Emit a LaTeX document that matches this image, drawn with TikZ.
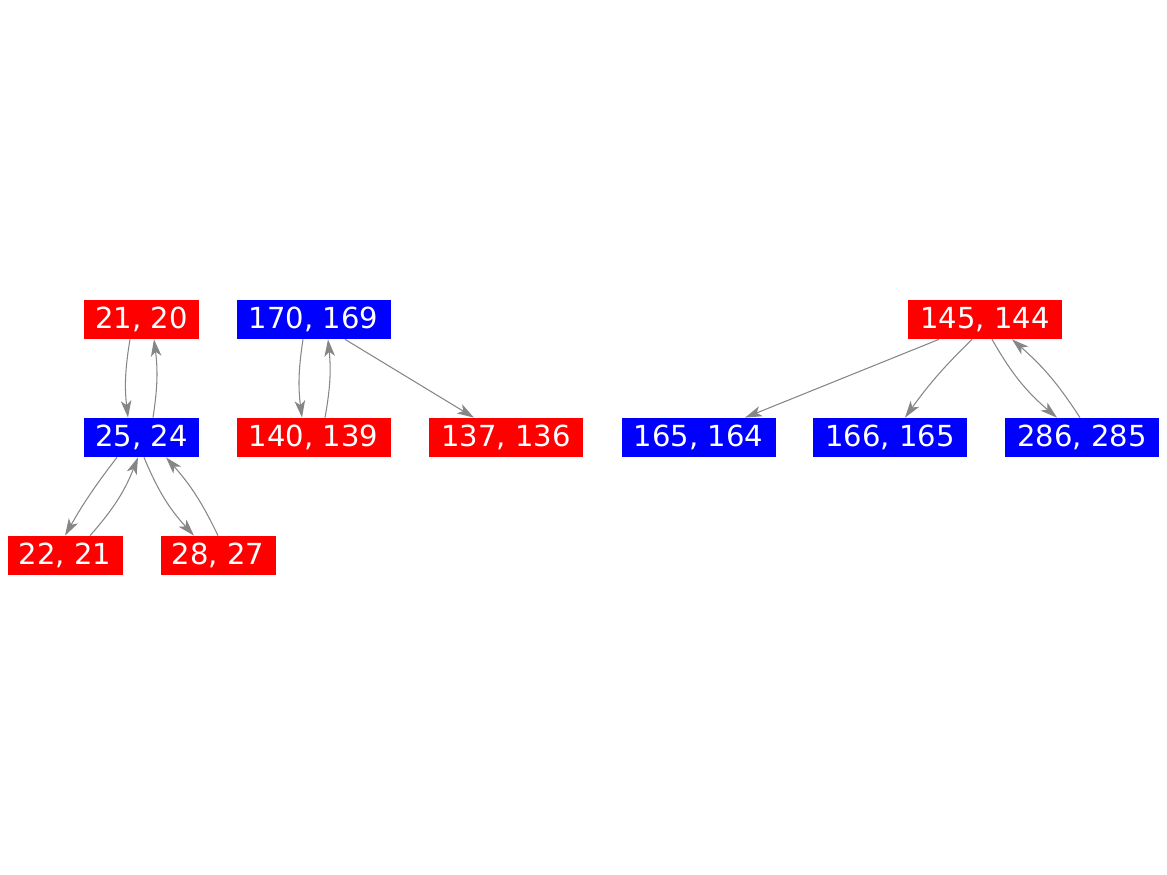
\documentclass[tikz,border=0pt]{standalone}
\usepackage{fontspec}
\setmainfont{DejaVu Sans}
\usetikzlibrary{arrows.meta}

\begin{document}
\begin{tikzpicture}[
  redbox/.style={fill=red,text=white,inner sep=0pt,minimum height=0.78cm,font=\fontsize{16.5}{18}\selectfont},
  bluebox/.style={redbox,fill=blue},
  wide/.style={minimum width=3.08cm},
  narrow/.style={minimum width=2.3cm},
  link/.style={draw=gray!95,line width=0.6pt,-{Stealth[length=0.34cm,width=0.21cm,inset=0.09cm]}}
]
\useasboundingbox (0,0) rectangle (23.34,-17.5);
% top row
\node[redbox,narrow] (n21) at (2.83,-6.39) {21, 20};
\node[bluebox,wide] (n170) at (6.27,-6.39) {170, 169};
\node[redbox,wide] (n145) at (19.70,-6.39) {145, 144};
% middle row
\node[bluebox,narrow] (n25) at (2.83,-8.75) {25, 24};
\node[redbox,wide] (n140) at (6.27,-8.75) {140, 139};
\node[redbox,wide] (n137) at (10.12,-8.75) {137, 136};
\node[bluebox,wide] (n165) at (13.97,-8.75) {165, 164};
\node[bluebox,wide] (n166) at (17.80,-8.75) {166, 165};
\node[bluebox,wide] (n286) at (21.64,-8.75) {286, 285};
% bottom row
\node[redbox,narrow] (n22) at (1.30,-11.11) {22, 21};
\node[redbox,narrow] (n28) at (4.36,-11.11) {28, 27};
% edges
\draw[link] ([xshift=-0.23cm]n21.south) to[bend right=8] ([xshift=-0.27cm]n25.north);
\draw[link] ([xshift=0.23cm]n25.north) to[bend right=8] ([xshift=0.25cm]n21.south);
\draw[link] ([xshift=-0.21cm]n170.south) to[bend right=8] ([xshift=-0.23cm]n140.north);
\draw[link] ([xshift=0.23cm]n140.north) to[bend right=8] ([xshift=0.29cm]n170.south);
\draw[link] ([xshift=0.63cm]n170.south) -- ([xshift=-0.64cm]n137.north);
\draw[link] ([xshift=-0.49cm]n25.south) to[bend right=4] (n22.north);
\draw[link] ([xshift=0.5cm]n22.north) to[bend right=10] ([xshift=-0.07cm]n25.south);
\draw[link] ([xshift=0.05cm]n25.south) to[bend right=10] ([xshift=-0.48cm]n28.north);
\draw[link] (n28.north) to[bend right=8] ([xshift=0.49cm]n25.south);
\draw[link] ([xshift=-0.92cm]n145.south) -- ([xshift=0.93cm]n165.north);
\draw[link] ([xshift=-0.26cm]n145.south) to[bend right=5] ([xshift=0.3cm]n166.north);
\draw[link] ([xshift=0.14cm]n145.south) to[bend right=10] ([xshift=-0.5cm]n286.north);
\draw[link] ([xshift=-0.04cm]n286.north) to[bend right=8] ([xshift=0.54cm]n145.south);
\end{tikzpicture}
\end{document}
